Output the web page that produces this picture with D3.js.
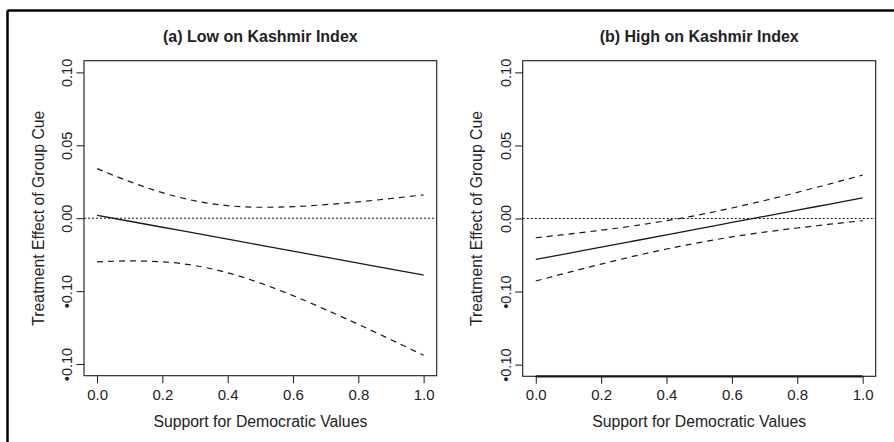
<!DOCTYPE html>
<html><head><meta charset="utf-8">
<script src="https://cdn.jsdelivr.net/npm/d3@7/dist/d3.min.js"></script>
<style>
body{margin:0;background:#fff;}
svg{display:block;font-family:"Liberation Sans",Arial,sans-serif;}
</style></head>
<body><svg id="c" width="894" height="442"></svg>
<script>
// ---- data ----
const xs = [0,0.1,0.2,0.3,0.4,0.5,0.6,0.7,0.8,0.9,1.0];
const lowEst   = [0.002,-0.0021,-0.0062,-0.0103,-0.0144,-0.0185,-0.0226,-0.0267,-0.0308,-0.0349,-0.039];
const lowUpper = [0.034,0.0251,0.0175,0.0119,0.0086,0.0075,0.0079,0.0093,0.0112,0.0135,0.016];
const lowLower = [-0.030,-0.0293,-0.0299,-0.0325,-0.0374,-0.0445,-0.0531,-0.0627,-0.0728,-0.0833,-0.094];
const highEst   = [-0.028,-0.0238,-0.0196,-0.0154,-0.0112,-0.007,-0.0027,0.0015,0.0057,0.0099,0.0141];
const highUpper = [-0.0132,-0.0107,-0.008,-0.005,-0.0015,0.0025,0.0072,0.0123,0.0179,0.0237,0.0297];
const highLower = [-0.0428,-0.0369,-0.0312,-0.0258,-0.0209,-0.0165,-0.0126,-0.0093,-0.0065,-0.0039,-0.0015];
const xTicks = [0,0.2,0.4,0.6,0.8,1.0];
const xTickLabels = ["0.0","0.2","0.4","0.6","0.8","1.0"];
const yTicks = [0.10,0.05,0.00,-0.05,-0.10];
const yTickLabels = ["0.10","0.05","0.00","•0.10","•0.10"];
const titles = ["(a) Low on Kashmir Index","(b) High on Kashmir Index"];
const xLabel = "Support for Democratic Values";
const yLabel = "Treatment Effect of Group Cue";

const svg = d3.select("#c");
const ink = "#1a1a1a", txt = "#222";

// outer frame (top and left edges)
svg.append("line").attr("x1",7.5).attr("x2",894).attr("y1",10.5).attr("y2",10.5).attr("stroke","#000").attr("stroke-width",2.5);
svg.append("line").attr("x1",7.5).attr("x2",7.5).attr("y1",10.5).attr("y2",442).attr("stroke","#000").attr("stroke-width",2.5);

const panels = [
  {left:84, right:436.7, top:60.7, bottom:375.7, est:lowEst, up:lowUpper, lo:lowLower, title:titles[0], thickAxis:false},
  {left:522.7, right:875.7, top:60.7, bottom:376.3, est:highEst, up:highUpper, lo:highLower, title:titles[1], thickAxis:true}
];

panels.forEach(p=>{
  const x = d3.scaleLinear().domain([-0.04,1.04]).range([p.left,p.right]);
  const y = d3.scaleLinear().domain([-0.108,0.108]).range([p.bottom,p.top]);
  const g = svg.append("g");

  // box
  g.append("rect").attr("x",p.left).attr("y",p.top).attr("width",p.right-p.left).attr("height",p.bottom-p.top)
    .attr("fill","none").attr("stroke",ink).attr("stroke-width",1.1);

  // axes
  const xa = g.append("g").attr("transform",`translate(0,${p.bottom})`)
    .call(d3.axisBottom(x).tickValues(xTicks).tickSize(7.5).tickPadding(6).tickFormat((d,i)=>xTickLabels[i]));
  xa.select(".domain").remove();
  xa.selectAll("line").attr("stroke",ink);
  xa.selectAll("text").attr("font-size","15px").attr("fill",txt).attr("font-family","Liberation Sans, Arial, sans-serif");
  if(p.thickAxis){
    g.append("line").attr("x1",x(0)).attr("x2",x(1)).attr("y1",p.bottom).attr("y2",p.bottom).attr("stroke",ink).attr("stroke-width",2.2);
  }

  const ya = g.append("g").attr("transform",`translate(${p.left},0)`)
    .call(d3.axisLeft(y).tickValues(yTicks).tickSize(7.5).tickFormat(""));
  ya.select(".domain").remove();
  ya.selectAll("line").attr("stroke",ink);
  ya.selectAll(".tick").append("text")
    .attr("transform","translate(-12,0) rotate(-90)")
    .attr("text-anchor","middle").attr("fill",txt).attr("font-size","14.5px")
    .attr("font-family","Liberation Sans, Arial, sans-serif")
    .text((d,i)=>yTickLabels[i]);

  // zero reference line
  g.append("line").attr("x1",p.left).attr("x2",p.right).attr("y1",y(0)).attr("y2",y(0))
    .attr("stroke",ink).attr("stroke-width",1).attr("stroke-dasharray","2,2");

  const line = d3.line().x((d,i)=>x(xs[i])).y(d=>y(d)).curve(d3.curveMonotoneX);
  g.append("path").attr("d",line(p.est)).attr("fill","none").attr("stroke",ink).attr("stroke-width",1.3);
  [p.up,p.lo].forEach(s=>{
    g.append("path").attr("d",line(s)).attr("fill","none").attr("stroke",ink).attr("stroke-width",1.2)
      .attr("stroke-dasharray","6,5");
  });

  // texts
  const cx = (p.left+p.right)/2;
  g.append("text").attr("x",cx).attr("y",41.5).attr("text-anchor","middle")
    .attr("font-weight","bold").attr("font-size","16px").attr("fill",txt).text(p.title);
  g.append("text").attr("x",(x(0)+x(1))/2).attr("y",427).attr("text-anchor","middle")
    .attr("font-size","15.8px").attr("fill",txt).text(xLabel);
  g.append("text").attr("transform",`translate(${p.left-40.5},${(p.top+p.bottom)/2}) rotate(-90)`)
    .attr("text-anchor","middle").attr("font-size","15.8px").attr("fill",txt).text(yLabel);
});
</script></body></html>
